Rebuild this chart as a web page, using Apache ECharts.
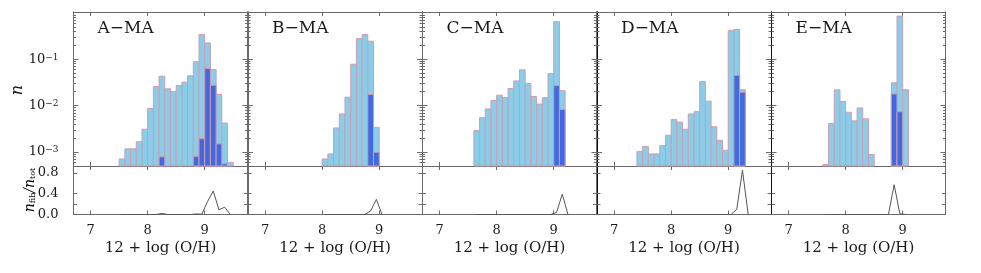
<!DOCTYPE html>
<html><head><meta charset="utf-8">
<script src="https://cdn.jsdelivr.net/npm/echarts@6/dist/echarts.min.js"></script>
<style>html,body{margin:0;padding:0;background:#fff}#c{width:981px;height:273px}</style>
</head><body><div id="c"></div>
<script>
// ---------------- data ----------------
const panelLabels = ['A\u2212MA', 'B\u2212MA', 'C\u2212MA', 'D\u2212MA', 'E\u2212MA'];
const xTickValues = [7, 8, 9];
const yTickExponents = [-3, -2, -1];
const ratioTickValues = [0, 0.4, 0.8];
const ratioTickLabels = ['0.0', '0.4', '0.8'];
const binWidth = 0.1;

const binsA  = [7.55,7.65,7.75,7.85,7.95,8.05,8.15,8.25,8.35,8.45,8.55,8.65,8.75,8.85,8.95,9.05,9.15,9.25,9.35,9.45];
const totalA = [7.1e-4,1.17e-3,1.17e-3,1.66e-3,3.1e-3,8.7e-3,0.0258,0.043,0.023,0.020,0.027,0.032,0.044,0.088,0.339,0.224,0.060,0.0174,0.0042,6.0e-4];
const fibA   = [null,null,null,null,null,null,null,7.9e-4,null,null,null,null,null,8.1e-4,1.94e-3,0.063,0.0275,1.5e-3,5.6e-4,null];
const ratioA = [0,0,0,0,0,0,0,0.02,0,0,0,0,0,0.01,0.006,0.25,0.45,0.09,0.14,0];

const binsB  = [8.05,8.15,8.25,8.35,8.45,8.55,8.65,8.75,8.85,8.95,9.05];
const totalB = [7.1e-4,9.1e-4,3.3e-3,6.6e-3,0.0152,0.078,0.278,0.339,0.244,3.4e-3,null];
const fibB   = [null,null,null,null,null,null,null,null,0.0174,9.9e-4,null];
const ratioB = [0,0,0,0,0,0,0,0,0.07,0.29,0];

const binsC  = [7.65,7.75,7.85,7.95,8.05,8.15,8.25,8.35,8.45,8.55,8.65,8.75,8.85,8.95,9.05,9.15,9.25];
const totalC = [2.9e-3,5.5e-3,8.5e-3,0.0129,0.0168,0.015,0.0234,0.034,0.059,0.030,0.0158,0.0108,0.0148,0.049,0.645,0.021,null];
const fibC   = [null,null,null,null,null,null,null,null,null,null,null,null,null,null,0.027,0.0083,null];
const ratioC = [0,0,0,0,0,0,0,0,0,0,0,0,0,0,0.04,0.39,0];

const binsD  = [7.45,7.55,7.65,7.75,7.85,7.95,8.05,8.15,8.25,8.35,8.45,8.55,8.65,8.75,8.85,8.95,9.05,9.15,9.25,9.35];
const totalD = [1.03e-3,1.32e-3,9.1e-4,9.1e-4,1.38e-3,2.3e-3,5.0e-3,4.4e-3,3.1e-3,6.6e-3,7.4e-3,0.033,0.0125,3.5e-3,1.78e-3,1.09e-3,0.42,0.435,0.022,null];
const fibD   = [null,null,null,null,null,null,null,null,null,null,null,null,null,null,null,null,null,0.045,0.0195,null];
const ratioD = [0,0,0,0,0,0,0,0,0,0,0,0,0,0,0,0,0,0.10,0.85,0];

const binsE  = [7.65,7.75,7.85,7.95,8.05,8.15,8.25,8.35,8.45,8.55,8.65,8.75,8.85,8.95,9.05];
const totalE = [5.4e-4,4.1e-3,0.0219,0.0123,7.2e-3,4.7e-3,8.9e-3,5.2e-3,8.9e-4,null,null,null,0.031,0.85,0.022];
const fibE   = [null,null,null,null,null,null,null,null,null,null,null,null,0.0179,0.0074,null];
const ratioE = [0,0,0,0,0,0,0,0,0,0,0,0,0.57,0.01,0];

// ---------------- layout / style ----------------
const xMin = 6.7, xMax = 9.75;
const yMin = 0.0005, yMax = 1.04;
const rMin = 0, rMax = 0.93;
const panelLefts = [73.5, 248, 422.5, 597, 771.5];
const panelWidth = 174;
const topY = 12, topH = 154, botY = 166, botH = 48.5;
const FONT = 'DejaVu Serif';
const frame = '#6a6a6a';
const textColor = '#1a1a1a';
const lightFill = '#87CEEB', darkFill = '#4169E1', edge = '#d29cae';

const panels = [
  {bins: binsA, total: totalA, fib: fibA, ratio: ratioA},
  {bins: binsB, total: totalB, fib: fibB, ratio: ratioB},
  {bins: binsC, total: totalC, fib: fibC, ratio: ratioC},
  {bins: binsD, total: totalD, fib: fibD, ratio: ratioD},
  {bins: binsE, total: totalE, fib: fibE, ratio: ratioE}
];

const majorLog = yTickExponents.map(e => Math.pow(10, e));
const minorLog = [];
for (let e = -4; e <= -1; e++) for (let m = 2; m <= 9; m++) {
  const v = m * Math.pow(10, e);
  if (v > yMin && v < yMax) minorLog.push(v);
}

const grids = [], xAxes = [], yAxes = [], series = [], graphics = [];

function histRender(fill) {
  return function (params, api) {
    const c = api.value(0), v = api.value(1);
    if (!(v > 0)) return;
    const p1 = api.coord([c - binWidth / 2, v]);
    const p2 = api.coord([c + binWidth / 2, yMin]);
    return {type: 'rect', shape: {x: p1[0], y: p1[1], width: p2[0] - p1[0], height: p2[1] - p1[1]},
            style: {fill: fill, stroke: edge, lineWidth: 1}};
  };
}

panels.forEach((p, i) => {
  const left = panelLefts[i];
  const leftColor = (i >= 3) ? '#111' : frame;
  const gT = grids.length;
  grids.push({left: left, top: topY, width: panelWidth, height: topH});
  const gB = grids.length;
  grids.push({left: left, top: botY, width: panelWidth, height: botH});

  const xa = (gridIndex, position, labels) => ({
    type: 'value', gridIndex, position, min: xMin, max: xMax,
    axisLine: {show: true, onZero: false, lineStyle: {color: frame, width: 1}},
    axisTick: {show: true, inside: true, length: 4, customValues: xTickValues, lineStyle: {color: frame}},
    axisLabel: {show: labels, customValues: xTickValues, margin: 10, fontFamily: FONT, fontSize: 13, color: textColor},
    splitLine: {show: false},
    name: labels ? '12 + log (O/H)' : '', nameLocation: 'middle', nameGap: 26,
    nameTextStyle: {fontFamily: FONT, fontSize: 15, color: textColor}
  });
  const xT = xAxes.length; xAxes.push(xa(gT, 'bottom', false));
  xAxes.push(xa(gT, 'top', false));
  const xB = xAxes.length; xAxes.push(xa(gB, 'bottom', true));
  xAxes.push(xa(gB, 'top', false));

  const ya = (gridIndex, position, vals, len, labels, color) => ({
    type: 'log', gridIndex, position, min: yMin, max: yMax, logBase: 10,
    axisLine: {show: true, onZero: false, lineStyle: {color: color, width: 1}},
    axisTick: {show: true, inside: true, length: len, customValues: vals, lineStyle: {color: frame}},
    axisLabel: {show: labels, customValues: vals, margin: 15, fontFamily: FONT,
      formatter: v => '{b|10}{s|\u2212' + (-Math.round(Math.log10(v))) + '}',
      rich: {b: {fontFamily: FONT, fontSize: 13, color: textColor},
             s: {fontFamily: FONT, fontSize: 9, color: textColor, verticalAlign: 'top'}}},
    splitLine: {show: false}
  });
  const yT = yAxes.length; yAxes.push(ya(gT, 'left', majorLog, 5, i === 0, leftColor));
  yAxes.push(ya(gT, 'left', minorLog, 2.5, false, leftColor));
  yAxes.push(ya(gT, 'right', majorLog, 5, false, frame));
  yAxes.push(ya(gT, 'right', minorLog, 2.5, false, frame));

  const ra = (position, labels, color) => ({
    type: 'value', gridIndex: gB, position, min: rMin, max: rMax,
    axisLine: {show: true, onZero: false, lineStyle: {color: color, width: 1}},
    axisTick: {show: true, inside: true, length: 3.5, customValues: [0.2, 0.4, 0.8], lineStyle: {color: frame}},
    axisLabel: {show: labels, customValues: ratioTickValues, margin: 15, fontFamily: FONT, fontSize: 13, color: textColor,
      formatter: v => ratioTickLabels[ratioTickValues.indexOf(Math.round(v * 10) / 10)]},
    splitLine: {show: false}
  });
  const yB = yAxes.length; yAxes.push(ra('left', i === 0, leftColor));
  yAxes.push(ra('right', false, frame));

  series.push({type: 'custom', xAxisIndex: xT, yAxisIndex: yT, renderItem: histRender(lightFill),
    data: p.bins.map((c, k) => [c, p.total[k]]), z: 2});
  series.push({type: 'custom', xAxisIndex: xT, yAxisIndex: yT, renderItem: histRender(darkFill),
    data: p.bins.map((c, k) => [c, p.fib[k]]), z: 3});
  series.push({type: 'line', xAxisIndex: xB, yAxisIndex: yB, symbol: 'none', animation: false,
    lineStyle: {color: '#555', width: 1}, data: p.bins.map((c, k) => [c, p.ratio[k]]), z: 3});

  graphics.push({type: 'text', x: left + 24, y: 29,
    style: {text: panelLabels[i], font: '17px "' + FONT + '"', fill: textColor, align: 'left', verticalAlign: 'middle'}});
});

graphics.push({type: 'text', x: 18, y: 90, rotation: Math.PI / 2,
  style: {text: 'n', font: 'italic 16px "' + FONT + '"', fill: textColor, align: 'center', verticalAlign: 'middle'}});
graphics.push({type: 'text', x: 30, y: 190, rotation: Math.PI / 2,
  style: {text: '{n|n}{s|fib}{n|/}{n|n}{s|tot}', align: 'center', verticalAlign: 'middle',
    rich: {n: {fontFamily: FONT, fontStyle: 'italic', fontSize: 14, color: textColor},
           s: {fontFamily: FONT, fontSize: 8, color: textColor, verticalAlign: 'bottom'}}}});

const chart = echarts.init(document.getElementById('c'), null, {renderer: 'canvas'});
chart.setOption({
  animation: false,
  backgroundColor: '#fff',
  grid: grids, xAxis: xAxes, yAxis: yAxes, series: series, graphic: graphics
});
</script></body></html>
